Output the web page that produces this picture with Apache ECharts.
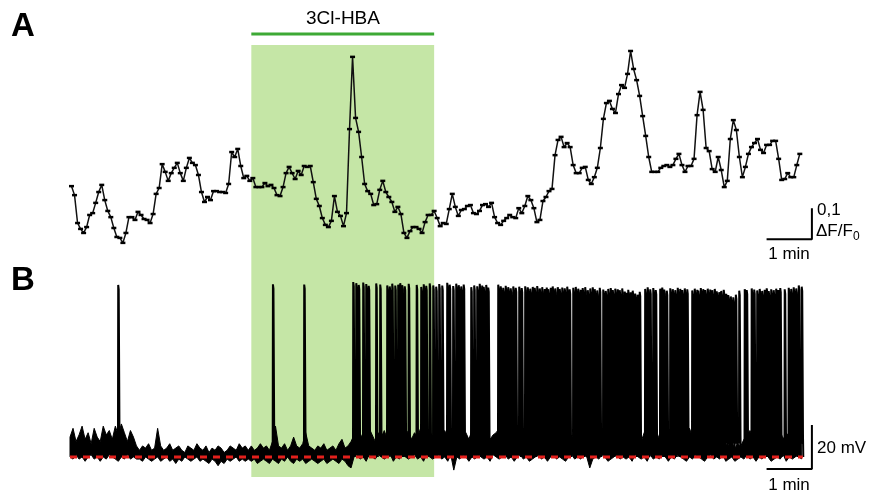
<!DOCTYPE html>
<html><head><meta charset="utf-8">
<script src="https://cdn.jsdelivr.net/npm/echarts@6/dist/echarts.min.js"></script>
<style>html,body{margin:0;padding:0;background:#fff}#c{width:874px;height:497px}</style>
</head><body><div id="c"></div>
<script>
// ---------- Panel A: Ca imaging (ΔF/F0), one sample every 4 s ----------
const imagingStart = 2;      // s
const imagingInterval = 4;   // s
const dFF0 = [
0.206,0.177,0.087,0.068,0.055,0.074,0.113,0.119,0.152,0.187,
0.210,0.161,0.126,0.106,0.071,0.042,0.039,0.023,0.055,0.106,
0.106,0.097,0.123,0.113,0.100,0.097,0.087,0.116,0.181,0.200,
0.277,0.252,0.223,0.248,0.265,0.281,0.248,0.223,0.265,0.297,
0.281,0.274,0.242,0.187,0.155,0.171,0.161,0.190,0.190,0.187,
0.187,0.184,0.213,0.316,0.300,0.326,0.271,0.232,0.239,0.223,
0.232,0.203,0.203,0.203,0.216,0.206,0.210,0.200,0.177,0.174,
0.203,0.248,0.268,0.248,0.229,0.255,0.242,0.271,0.268,0.271,
0.219,0.165,0.142,0.103,0.081,0.074,0.094,0.174,0.123,0.110,
0.077,0.119,0.390,0.623,0.426,0.381,0.300,0.213,0.190,0.181,
0.145,0.148,0.194,0.223,0.187,0.171,0.155,0.123,0.139,0.116,
0.055,0.039,0.061,0.074,0.074,0.068,0.055,0.090,0.113,0.113,
0.126,0.103,0.077,0.087,0.084,0.132,0.181,0.139,0.110,0.129,
0.132,0.142,0.145,0.119,0.116,0.126,0.145,0.148,0.139,0.152,
0.106,0.087,0.081,0.094,0.103,0.113,0.106,0.103,0.135,0.119,
0.142,0.174,0.161,0.135,0.090,0.097,0.158,0.171,0.190,0.197,
0.306,0.355,0.365,0.332,0.345,0.332,0.274,0.248,0.248,0.265,
0.268,0.226,0.213,0.235,0.265,0.329,0.423,0.474,0.481,0.455,
0.442,0.503,0.532,0.523,0.568,0.642,0.584,0.548,0.497,0.432,
0.368,0.300,0.252,0.252,0.252,0.265,0.271,0.274,0.268,0.274,
0.294,0.310,0.274,0.252,0.271,0.271,0.294,0.435,0.510,0.452,
0.329,0.319,0.261,0.252,0.300,0.258,0.203,0.223,0.358,0.419,
0.387,0.300,0.235,0.268,0.310,0.332,0.345,0.358,0.323,0.313,
0.339,0.339,0.352,0.352,0.294,0.226,0.229,0.248,0.235,0.235,
0.274,0.310
];

// ---------- Panel B: membrane potential (mV) ----------
const restingVm = -60;       // red dashed reference
const envelopeStep = 4;      // s, min/max envelope of the sub-threshold trace
const vmHigh = [
-51,-47,-53,-50,-46,-52,-49,-54,-47,-51,-53,-46,-50,-48,-52,-46,-50,-45,-49,-53,-48,-51,-55,
-57,-55,-56,-54,-57,-56,-47,-55,-57,-56,-54,-57,-56,-55,-57,-58,-55,-56,-57,-54,-56,-57,-55,-58,-56,-57,-55,-56,-58,-57,-55,-56,-57,-54,-56,-55,-57,
-55,-57,-56,-54,-56,-55,-57,-53,-46,-55,-56,-54,-57,-55,-51,-55,-56,-54,-49,-55,-56,-57,-55,-56,-54,-57,-56,-55,-57,-54,-52,-56,-55,-53,
-50,-48,-52,-49,-51,-47,-50,-53,-49,-51,
-48,-52,-50,-47,-51,-49,-53,-50,-48,-52,
-49,-51,-47,-50,-52,-48,-51,-49,-53,-50,
-48,-51,-49,-52,-50,-47,-51,-49,-52,-48,
-50,-53,-49,-51,-48,-52,-50,-49,-47,-51,
-49,-52,-50,-48,-51,-49,-53,-50,-48,-51,
-50,-47,-51,-49,-52,-48,-50,-51,-49,-52,
-48,-50,-53,-49,-51,-50,-48,-52,-54,-51,
-49,-51,-48,-50,-52,-49,-47,-51,-50,-48,
-52,-49,-51,-48,-50,-53,-49,-51,-47,-50,
-48,-52,-50,-49,-51,-48,-50,-52,-49,-51,
-50,-47,-51,-49,-52,-50,-48,-51,-49,-53,
-50,-48,-51,-54,-55,-53,-56,-54,-55,-52,
-50,-48,-51,-49,-47,-50,-52,-48,-51,-49,
-50,-48,-52,-49,-51,-47,-50,-49,-52
];
const vmLow = [
-60,-61,-59,-61,-60,-62,-60,-59,-61,-60,-62,-60,-61,-59,-60,-61,-62,-60,-61,-59,-61,-60,-61,
-61,-62,-60,-61,-62,-61,-60,-62,-61,-60,-62,-61,-63,-61,-62,-60,-61,-62,-61,-60,-62,-61,-62,-63,-61,-62,-64,-62,-63,-61,-62,-61,-60,-62,-61,-62,-61,
-62,-61,-63,-62,-61,-62,-63,-61,-62,-63,-61,-62,-60,-62,-63,-61,-62,-61,-63,-62,-61,-62,-63,-62,-61,-63,-62,-61,-62,-63,-61,-62,-64,-65,
-60,-59,-61,-60,-62,-59,-60,-61,-59,-60,
-61,-60,-59,-62,-60,-61,-59,-60,-61,-60,
-59,-61,-60,-62,-59,-60,-61,-60,-59,-61,
-60,-62,-59,-66,-60,-61,-59,-60,-62,-60,
-61,-59,-60,-61,-60,-62,-59,-60,-61,-60,
-59,-61,-60,-62,-60,-59,-61,-60,-62,-61,
-60,-59,-61,-60,-62,-60,-59,-61,-60,-61,
-62,-60,-59,-61,-60,-61,-59,-60,-65,-61,
-60,-61,-59,-60,-62,-61,-60,-59,-61,-60,
-61,-60,-62,-59,-60,-61,-60,-62,-59,-61,
-60,-61,-59,-60,-62,-60,-61,-59,-60,-61,
-62,-60,-61,-59,-60,-61,-62,-60,-59,-61,
-60,-61,-59,-62,-61,-60,-62,-61,-60,-61,
-59,-61,-60,-62,-60,-61,-59,-60,-62,-61,
-60,-61,-59,-62,-60,-61,-60,-59,-61
];
// action potentials: onset time (s) and peak (mV)
const spikeTimes = [
63.5,268.3,309.7,
374.6,378.6,381.9,387.8,391.8,395.1,405.0,410.3,419.6,422.9,
426.2,430.2,434.1,436.8,439.4,442.8,448.0,458.6,464.6,467.9,
471.2,475.8,480.5,484.4,488.4,492.4,499.0,502.3,506.9,510.9,
514.2,517.5,520.8,530.8,534.7,538.7,542.0,545.3,547.3,550.6,
553.3,566.5,569.8,573.1,576.4,579.7,583.0,586.4,589.7,594.3,
597.6,602.2,605.6,608.9,612.2,614.8,618.1,621.5,624.7,628.1,
630.7,632.7,636.0,638.6,641.9,645.3,647.9,651.2,654.5,657.8,
661.1,665.8,669.1,672.4,675.7,678.3,681.6,685.0,688.3,691.6,
694.2,697.5,700.9,705.5,708.8,712.1,715.4,718.1,721.4,724.7,
727.3,730.6,734.0,736.6,738.6,741.9,744.5,747.8,751.1,753.8,
761.0,764.3,767.7,771.7,775.0,780.9,783.6,786.2,789.6,794.2,
797.5,800.8,804.1,807.4,810.1,813.4,816.7,823.3,826.6,829.9,
831.3,834.6,837.8,840.5,843.8,847.1,849.8,853.1,855.7,859.0,
861.7,865.0,868.3,871.0,874.3,877.6,881.0,885.5,892.8,895.4,
902.0,905.3,909.3,912.6,915.9,919.2,921.9,924.5,927.8,931.1,
934.4,937.1,939.8,945.7,951.0,954.3,957.6,960.9,964.3,968.2
];
const spikePeaks = [
18.2,18.5,18.4,
19.5,19.0,18.2,19.3,18.6,17.8,18.9,18.4,18.0,17.5,
18.8,17.9,18.3,19.0,18.1,17.6,18.7,18.2,17.3,18.5,
17.8,18.9,18.0,17.4,18.6,17.9,19.2,18.3,17.7,18.8,
18.1,17.5,18.4,17.2,18.0,17.6,18.7,17.9,17.3,18.2,
17.0,18.3,17.6,16.9,17.8,17.2,16.7,17.5,16.9,17.4,
16.8,17.6,17.1,16.5,17.3,16.9,17.7,16.6,17.2,16.4,
17.0,16.3,16.9,17.5,16.6,17.2,16.4,17.0,16.7,17.4,
16.2,16.9,17.3,16.5,16.0,16.8,17.2,15.8,16.6,17.1,
16.3,15.7,16.9,16.1,15.5,16.4,16.8,15.9,16.5,16.2,
15.8,16.6,15.2,14.6,16.0,14.9,15.6,14.3,13.8,15.1,
16.4,17.1,16.2,16.8,15.9,16.5,17.0,16.1,15.6,16.7,
16.3,15.8,16.9,16.4,15.9,16.6,16.2,15.7,16.5,16.0,
15.6,16.8,16.3,15.9,16.5,16.1,15.8,16.4,15.3,14.9,
15.5,16.0,14.2,13.6,13.0,12.6,13.8,15.6,16.3,15.9,
16.6,16.1,15.7,16.4,15.5,16.0,16.7,15.4,16.2,15.8,
16.5,15.9,16.8,16.2,16.9,16.4,17.1,16.6,18.0,17.4
];

// drug application window (s) and scale bars
const drugLabel = '3Cl-HBA';
const drugStart = 240, drugEnd = 482;
const scaleBarTime = 60;          // 1 min
const scaleBarEndTime = 982;
const scaleBarDFF = 0.1;
const scaleBarDFFBase = 0.035;
const scaleBarMV = 20;
const scaleBarMVBase = -65.45;

// ---------- build ----------
const FONT = '"Liberation Sans", Arial, Helvetica, sans-serif';
const traceA = dFF0.map((v, i) => [imagingStart + i * imagingInterval, v]);

const spikeData = [];
spikeTimes.forEach((t, i) => {
  const p = spikePeaks[i];
  spikeData.push([t, -54], [t + 0.3, p], [t + 1.0, p - 2], [t + 2.0, -50], [t + 2.4, -60], [t + 2.5, null]);
});

const chart = echarts.init(document.getElementById('c'), null, {renderer: 'canvas'});
const xA = {min: 0, max: 1000, show: false};
chart.setOption({
  animation: false,
  grid: [
    {left: 70, top: 40, width: 755.5, height: 210},
    {left: 70, top: 270, width: 755.5, height: 210},
    {left: 70, top: 0, width: 755.5, height: 497}
  ],
  xAxis: [
    Object.assign({type: 'value', gridIndex: 0}, xA),
    Object.assign({type: 'value', gridIndex: 1}, xA),
    Object.assign({type: 'value', gridIndex: 2}, xA)
  ],
  yAxis: [
    {type: 'value', gridIndex: 0, min: 0, max: 0.67742, show: false},
    {type: 'value', gridIndex: 1, min: -70.5, max: 25, show: false},
    {type: 'value', gridIndex: 2, min: 0, max: 497, inverse: true, show: false}
  ],
  series: [
    // drug window shading + bar
    {
      type: 'line', xAxisIndex: 2, yAxisIndex: 2, z: 1,
      data: [[drugStart, 34], [drugEnd, 34]],
      symbol: 'none', lineStyle: {color: '#3da935', width: 3},
      markArea: {silent: true, itemStyle: {color: '#c5e6a6'},
        data: [[{xAxis: drugStart, yAxis: 45}, {xAxis: drugEnd, yAxis: 477}]]}
    },
    // panel A trace
    {
      type: 'line', xAxisIndex: 0, yAxisIndex: 0, z: 5,
      data: traceA, showSymbol: true, showAllSymbol: true,
      symbol: 'rect', symbolSize: [5, 2.5],
      itemStyle: {color: '#000'}, lineStyle: {color: '#111', width: 1.5}
    },
    // panel A scale bar
    {
      type: 'line', xAxisIndex: 0, yAxisIndex: 0, z: 5, symbol: 'none',
      data: [[scaleBarEndTime - scaleBarTime, scaleBarDFFBase], [scaleBarEndTime, scaleBarDFFBase], [scaleBarEndTime, scaleBarDFFBase + scaleBarDFF]],
      lineStyle: {color: '#000', width: 2}
    },
    // panel B subthreshold envelope
    {
      type: 'custom', xAxisIndex: 1, yAxisIndex: 1, z: 5,
      data: [[0, 0]],
      renderItem: function (params, api) {
        const pts = [];
        vmHigh.forEach((v, i) => pts.push(api.coord([i * envelopeStep, v])));
        for (let i = vmLow.length - 1; i >= 0; i--) pts.push(api.coord([i * envelopeStep, vmLow[i]]));
        return {type: 'polygon', shape: {points: pts}, style: {fill: '#000', stroke: '#000', lineWidth: 1}};
      }
    },
    // panel B spikes
    {
      type: 'line', xAxisIndex: 1, yAxisIndex: 1, z: 6, symbol: 'none',
      data: spikeData, connectNulls: false,
      lineStyle: {color: '#000', width: 2}
    },
    // resting reference line
    {
      type: 'line', xAxisIndex: 1, yAxisIndex: 1, z: 7, symbol: 'none',
      data: [[0, restingVm], [vmLow.length * envelopeStep - 2, restingVm]],
      lineStyle: {color: '#e3201c', width: 3, type: [7, 6]}
    },
    // panel B scale bar
    {
      type: 'line', xAxisIndex: 1, yAxisIndex: 1, z: 5, symbol: 'none',
      data: [[scaleBarEndTime - scaleBarTime, scaleBarMVBase], [scaleBarEndTime, scaleBarMVBase], [scaleBarEndTime, scaleBarMVBase + scaleBarMV]],
      lineStyle: {color: '#000', width: 2}
    }
  ],
  graphic: [
    {type: 'text', x: 11, y: 10, z: 100, style: {text: 'A', font: 'bold 33px ' + FONT, fill: '#000'}},
    {type: 'text', x: 11, y: 264, z: 100, style: {text: 'B', font: 'bold 33px ' + FONT, fill: '#000'}},
    {type: 'text', x: 343, y: 19, z: 100, style: {text: drugLabel, font: '19px ' + FONT, fill: '#000', align: 'center', verticalAlign: 'middle'}},
    {type: 'text', x: 817, y: 210, z: 100, style: {text: '0,1', font: '17px ' + FONT, fill: '#000', verticalAlign: 'middle'}},
    {type: 'text', x: 816, y: 231, z: 100, style: {text: 'ΔF/F', font: '17px ' + FONT, fill: '#000', verticalAlign: 'middle'}},
    {type: 'text', x: 853, y: 237, z: 100, style: {text: '0', font: '12px ' + FONT, fill: '#000', verticalAlign: 'middle'}},
    {type: 'text', x: 789, y: 254, z: 100, style: {text: '1 min', font: '17px ' + FONT, fill: '#000', align: 'center', verticalAlign: 'middle'}},
    {type: 'text', x: 817, y: 448, z: 100, style: {text: '20 mV', font: '17px ' + FONT, fill: '#000', verticalAlign: 'middle'}},
    {type: 'text', x: 789, y: 485, z: 100, style: {text: '1 min', font: '17px ' + FONT, fill: '#000', align: 'center', verticalAlign: 'middle'}}
  ]
});
</script></body></html>
